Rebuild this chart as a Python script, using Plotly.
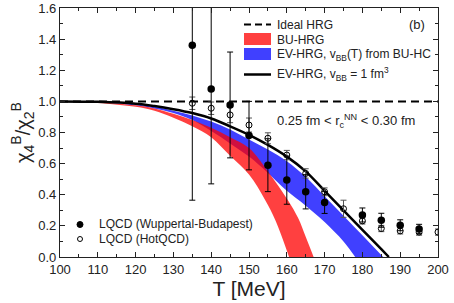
import plotly.graph_objects as go

# ---------------- data ----------------
T_ideal = [100, 200]
ideal = [1.0, 1.0]

T_bu_up = [100, 110, 120, 125, 130, 135, 140, 145, 150, 155, 160.3, 163, 165, 167.1]
bu_up = [1.0, 0.995, 0.975, 0.955, 0.92, 0.88, 0.83, 0.77, 0.70, 0.55, 0.365, 0.25, 0.13, 0.0]
T_bu_lo = [100, 110, 120, 125, 130, 135, 140, 145, 150, 154.3, 157, 160.6]
bu_lo = [1.0, 0.99, 0.965, 0.94, 0.895, 0.84, 0.77, 0.65, 0.53, 0.365, 0.235, 0.0]

T_ev_up = [100, 110, 120, 125, 130, 135, 140, 145, 150, 155, 160, 165, 170, 175, 180, 185.5]
ev_up = [1.0, 0.996, 0.98, 0.965, 0.94, 0.91, 0.87, 0.82, 0.755, 0.69, 0.615, 0.515, 0.39, 0.265, 0.14, 0.0]
T_ev_lo = [100, 110, 120, 125, 130, 135, 140, 145, 150, 155, 160, 165, 170, 175, 178.1]
ev_lo = [1.0, 0.995, 0.975, 0.955, 0.925, 0.88, 0.81, 0.73, 0.645, 0.54, 0.425, 0.33, 0.225, 0.10, 0.0]

T_ev1 = [100, 110, 120, 125, 130, 135, 140, 145, 150, 155, 160, 165, 170, 175, 180, 185, 187]
ev1 = [1.0, 0.997, 0.985, 0.97, 0.95, 0.925, 0.89, 0.84, 0.785, 0.72, 0.645, 0.55, 0.425, 0.30, 0.175, 0.05, 0.0]

T_wb = [135, 140, 145, 150, 155, 160, 165, 170, 180, 185, 190, 195]
wb = [1.36, 1.08, 0.977, 0.78, 0.59, 0.494, 0.419, 0.35, 0.27, 0.236, 0.204, 0.18]
wb_err = [0.995, 0.61, 0.34, 0.22, 0.17, 0.155, 0.11, 0.07, 0.045, 0.045, 0.035, 0.03]

T_hot = [135, 140, 145, 150, 155, 160, 165, 170, 175, 180, 185, 190, 195, 200]
hot = [0.988, 0.956, 0.913, 0.848, 0.763, 0.655, 0.537, 0.419, 0.31, 0.232, 0.183, 0.168, 0.16, 0.16]
hot_err = [0.04, 0.04, 0.05, 0.045, 0.035, 0.03, 0.03, 0.025, 0.055, 0.02, 0.02, 0.02, 0.02, 0.02]

FONT = "Liberation Sans, Arial, sans-serif"
BLUE = "rgba(0,0,255,0.75)"
RED = "rgba(255,0,0,0.75)"

fig = go.Figure()

# EV-HRG band (blue)
fig.add_trace(go.Scatter(x=T_ev_lo, y=ev_lo, mode="lines", line=dict(width=0, shape="spline"),
                         showlegend=False, hoverinfo="skip"))
fig.add_trace(go.Scatter(x=T_ev_up, y=ev_up, mode="lines", line=dict(width=0, shape="spline"),
                         fill="tonexty", fillcolor=BLUE, showlegend=False, hoverinfo="skip"))
# BU-HRG band (red)
fig.add_trace(go.Scatter(x=T_bu_lo, y=bu_lo, mode="lines", line=dict(width=0, shape="spline"),
                         showlegend=False, hoverinfo="skip"))
fig.add_trace(go.Scatter(x=T_bu_up, y=bu_up, mode="lines", line=dict(width=0, shape="spline"),
                         fill="tonexty", fillcolor=RED, showlegend=False, hoverinfo="skip"))
# Ideal HRG
fig.add_trace(go.Scatter(x=T_ideal, y=ideal, mode="lines",
                         line=dict(color="black", width=2, dash="8px,5px"), showlegend=False))
# EV-HRG v=1 fm^3
fig.add_trace(go.Scatter(x=T_ev1, y=ev1, mode="lines",
                         line=dict(color="black", width=2.5, shape="spline"), showlegend=False))

# LQCD HotQCD
fig.add_trace(go.Scatter(x=T_hot, y=hot, mode="markers",
                         marker=dict(symbol="circle-open", size=6, color="black", line=dict(width=1)),
                         error_y=dict(type="data", array=hot_err, color="#555555", thickness=1, width=3),
                         showlegend=False))
# LQCD Wuppertal-Budapest
fig.add_trace(go.Scatter(x=T_wb, y=wb, mode="markers",
                         marker=dict(symbol="circle", size=7.5, color="black"),
                         error_y=dict(type="data", array=wb_err, color="black", thickness=1, width=3),
                         showlegend=False))

# ---------- layout ----------
axis_common = dict(showline=True, linecolor="#222", linewidth=1.2, mirror="ticks",
                   ticks="inside", ticklen=5, tickwidth=1, tickcolor="#222",
                   showgrid=False, zeroline=False, automargin=False,
                   tickfont=dict(family=FONT, size=13, color="#222"))

fig.update_layout(
    width=454, height=303,
    margin=dict(l=60, r=16, t=8, b=46, autoexpand=False),
    paper_bgcolor="white", plot_bgcolor="white",
    showlegend=False,
    xaxis=dict(range=[100, 200], dtick=10, tick0=100,
               minor=dict(dtick=5, ticks="inside", ticklen=3, tickcolor="#222"),
               title=dict(text="T [MeV]", font=dict(family=FONT, size=21, color="#222"), standoff=0),
               **axis_common),
    yaxis=dict(range=[0, 1.6], dtick=0.2, tick0=0, tickformat=".1f",
               minor=dict(dtick=0.1, ticks="inside", ticklen=3, tickcolor="#222"),
               title=dict(text="χ<sub>4</sub><sup>B</sup>/χ<sub>2</sub><sup>B</sup>",
                          font=dict(family=FONT, size=20, color="#222"), standoff=2),
               **axis_common),
)

def px2x(px):
    return (px - 60) / 378.0

def px2y(py):
    return (257 - py) / 249.0

# top-right legend (manual)
lx0, lx1 = px2x(244), px2x(271)
fig.add_shape(type="line", xref="paper", yref="paper", x0=lx0, x1=lx1, y0=px2y(24.5), y1=px2y(24.5),
              line=dict(color="black", width=2, dash="7px,4px"))
fig.add_shape(type="rect", xref="paper", yref="paper", x0=lx0, x1=lx1, y0=px2y(45), y1=px2y(33),
              fillcolor=RED, line=dict(width=0))
fig.add_shape(type="rect", xref="paper", yref="paper", x0=lx0, x1=lx1, y0=px2y(60), y1=px2y(48),
              fillcolor=BLUE, line=dict(width=0))
fig.add_shape(type="line", xref="paper", yref="paper", x0=lx0, x1=lx1, y0=px2y(74.5), y1=px2y(74.5),
              line=dict(color="black", width=2.5))

leg_texts = [
    ("Ideal HRG", 24.5),
    ("BU-HRG", 39.5),
    ("EV-HRG, v<sub>BB</sub>(T) from BU-HC", 54.5),
    ("EV-HRG, v<sub>BB</sub> = 1 fm<sup>3</sup>", 74),
]
for txt, py in leg_texts:
    fig.add_annotation(text=txt, xref="paper", yref="paper", x=px2x(275), y=px2y(py),
                       xanchor="left", yanchor="middle", showarrow=False,
                       font=dict(family=FONT, size=12, color="#222"))

fig.add_annotation(text="(b)", xref="paper", yref="paper", x=px2x(427), y=px2y(24),
                   xanchor="right", yanchor="middle", showarrow=False,
                   font=dict(family=FONT, size=13, color="#222"))
fig.add_annotation(text="0.25 fm < r<sub>c</sub><sup>NN</sup> < 0.30 fm", xref="paper", yref="paper",
                   x=px2x(275), y=px2y(121), xanchor="left", yanchor="middle", showarrow=False,
                   font=dict(family=FONT, size=13, color="#222"))

# bottom-left legend (manual)
fig.add_shape(type="circle", xref="paper", yref="paper", xsizemode="pixel", ysizemode="pixel",
              xanchor=px2x(80), yanchor=px2y(224.5), x0=-3, x1=3, y0=-3, y1=3,
              fillcolor="black", line=dict(color="black", width=1))
fig.add_shape(type="circle", xref="paper", yref="paper", xsizemode="pixel", ysizemode="pixel",
              xanchor=px2x(80), yanchor=px2y(239), x0=-2.5, x1=2.5, y0=-2.5, y1=2.5,
              fillcolor="white", line=dict(color="black", width=1))
fig.add_annotation(text="LQCD (Wuppertal-Budapest)", xref="paper", yref="paper", x=px2x(97), y=px2y(224),
                   xanchor="left", yanchor="middle", showarrow=False,
                   font=dict(family=FONT, size=12, color="#222"))
fig.add_annotation(text="LQCD (HotQCD)", xref="paper", yref="paper", x=px2x(97), y=px2y(239),
                   xanchor="left", yanchor="middle", showarrow=False,
                   font=dict(family=FONT, size=12, color="#222"))

fig.write_html("out.html", config={"displayModeBar": False},
               post_script="document.body.style.margin='0';document.body.style.padding='0';")
